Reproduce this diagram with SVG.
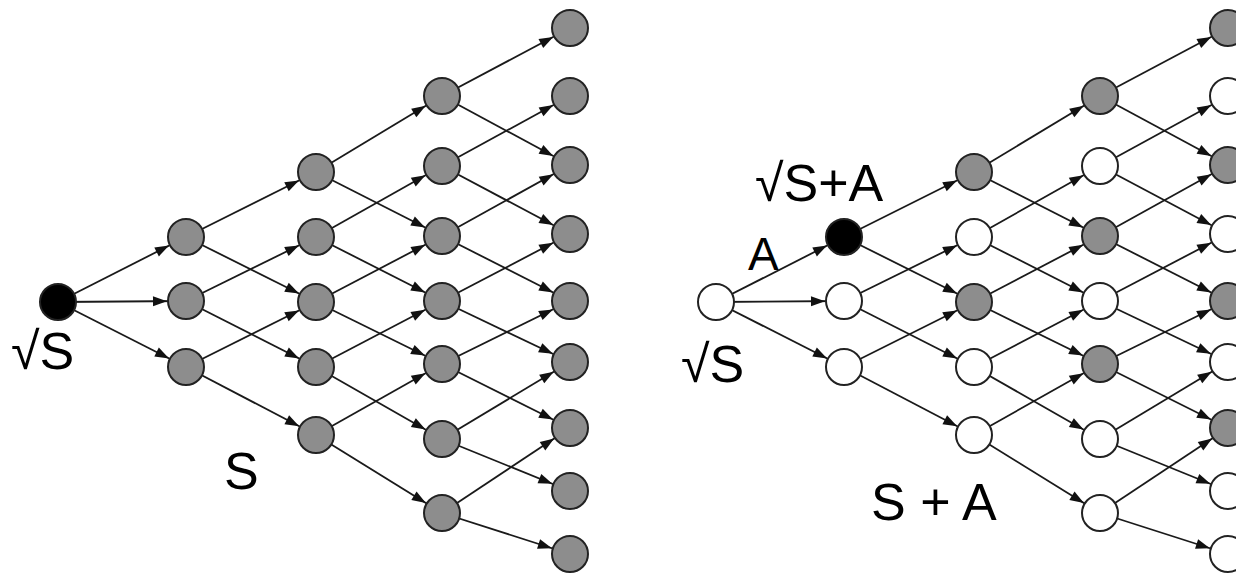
<svg xmlns="http://www.w3.org/2000/svg" width="1236" height="573" viewBox="0 0 1236 573">
<style>
.e{stroke:#1a1a1a;stroke-width:1.8;fill:none;marker-end:url(#ah)}
.n{stroke:#222;stroke-width:2}
.g{fill:#8d8d8d}
.w{fill:#fff}
.b{fill:#000}
.t{font-family:"Liberation Sans",Arial,sans-serif;font-size:52px;fill:#000}
</style>
<defs>
<marker id="ah" markerUnits="userSpaceOnUse" markerWidth="16" markerHeight="12" refX="33" refY="5" orient="auto" overflow="visible">
<path d="M0,0 L14,5 L0,10 z" fill="#111"/>
</marker>
</defs>
<rect width="1236" height="573" fill="#fff"/>
<g id="connectors-left">
<line class="e" x1="58" y1="302" x2="186" y2="237"/>
<line class="e" x1="58" y1="302" x2="186" y2="301"/>
<line class="e" x1="58" y1="302" x2="186" y2="367"/>
<line class="e" x1="186" y1="237" x2="316" y2="172"/>
<line class="e" x1="186" y1="237" x2="316" y2="302"/>
<line class="e" x1="186" y1="301" x2="316" y2="237"/>
<line class="e" x1="186" y1="301" x2="316" y2="367"/>
<line class="e" x1="186" y1="367" x2="316" y2="302"/>
<line class="e" x1="186" y1="367" x2="316" y2="435"/>
<line class="e" x1="316" y1="172" x2="442" y2="96"/>
<line class="e" x1="316" y1="172" x2="442" y2="236"/>
<line class="e" x1="316" y1="237" x2="442" y2="166"/>
<line class="e" x1="316" y1="237" x2="442" y2="301"/>
<line class="e" x1="316" y1="302" x2="442" y2="236"/>
<line class="e" x1="316" y1="302" x2="442" y2="364"/>
<line class="e" x1="316" y1="367" x2="442" y2="301"/>
<line class="e" x1="316" y1="367" x2="442" y2="439"/>
<line class="e" x1="316" y1="435" x2="442" y2="364"/>
<line class="e" x1="316" y1="435" x2="442" y2="513"/>
<line class="e" x1="442" y1="96" x2="570" y2="28"/>
<line class="e" x1="442" y1="96" x2="570" y2="165"/>
<line class="e" x1="442" y1="166" x2="570" y2="96"/>
<line class="e" x1="442" y1="166" x2="570" y2="234"/>
<line class="e" x1="442" y1="236" x2="570" y2="165"/>
<line class="e" x1="442" y1="236" x2="570" y2="301"/>
<line class="e" x1="442" y1="301" x2="570" y2="234"/>
<line class="e" x1="442" y1="301" x2="570" y2="362"/>
<line class="e" x1="442" y1="364" x2="570" y2="301"/>
<line class="e" x1="442" y1="364" x2="570" y2="428"/>
<line class="e" x1="442" y1="439" x2="570" y2="362"/>
<line class="e" x1="442" y1="439" x2="570" y2="491"/>
<line class="e" x1="442" y1="513" x2="570" y2="428"/>
<line class="e" x1="442" y1="513" x2="570" y2="554"/>
</g>
<g id="connectors-right" transform="translate(658,0)">
<line class="e" x1="58" y1="302" x2="186" y2="237"/>
<line class="e" x1="58" y1="302" x2="186" y2="301"/>
<line class="e" x1="58" y1="302" x2="186" y2="367"/>
<line class="e" x1="186" y1="237" x2="316" y2="172"/>
<line class="e" x1="186" y1="237" x2="316" y2="302"/>
<line class="e" x1="186" y1="301" x2="316" y2="237"/>
<line class="e" x1="186" y1="301" x2="316" y2="367"/>
<line class="e" x1="186" y1="367" x2="316" y2="302"/>
<line class="e" x1="186" y1="367" x2="316" y2="435"/>
<line class="e" x1="316" y1="172" x2="442" y2="96"/>
<line class="e" x1="316" y1="172" x2="442" y2="236"/>
<line class="e" x1="316" y1="237" x2="442" y2="166"/>
<line class="e" x1="316" y1="237" x2="442" y2="301"/>
<line class="e" x1="316" y1="302" x2="442" y2="236"/>
<line class="e" x1="316" y1="302" x2="442" y2="364"/>
<line class="e" x1="316" y1="367" x2="442" y2="301"/>
<line class="e" x1="316" y1="367" x2="442" y2="439"/>
<line class="e" x1="316" y1="435" x2="442" y2="364"/>
<line class="e" x1="316" y1="435" x2="442" y2="513"/>
<line class="e" x1="442" y1="96" x2="570" y2="28"/>
<line class="e" x1="442" y1="96" x2="570" y2="165"/>
<line class="e" x1="442" y1="166" x2="570" y2="96"/>
<line class="e" x1="442" y1="166" x2="570" y2="234"/>
<line class="e" x1="442" y1="236" x2="570" y2="165"/>
<line class="e" x1="442" y1="236" x2="570" y2="301"/>
<line class="e" x1="442" y1="301" x2="570" y2="234"/>
<line class="e" x1="442" y1="301" x2="570" y2="362"/>
<line class="e" x1="442" y1="364" x2="570" y2="301"/>
<line class="e" x1="442" y1="364" x2="570" y2="428"/>
<line class="e" x1="442" y1="439" x2="570" y2="362"/>
<line class="e" x1="442" y1="439" x2="570" y2="491"/>
<line class="e" x1="442" y1="513" x2="570" y2="428"/>
<line class="e" x1="442" y1="513" x2="570" y2="554"/>
</g>
<g id="left-nodes">
<g id="L-root"><circle class="n b" cx="58" cy="302" r="18"/></g>
<g id="L-A1"><circle class="n g" cx="186" cy="237" r="18"/></g>
<g id="L-A2"><circle class="n g" cx="186" cy="301" r="18"/></g>
<g id="L-A3"><circle class="n g" cx="186" cy="367" r="18"/></g>
<g id="L-B1"><circle class="n g" cx="316" cy="172" r="18"/></g>
<g id="L-B2"><circle class="n g" cx="316" cy="237" r="18"/></g>
<g id="L-B3"><circle class="n g" cx="316" cy="302" r="18"/></g>
<g id="L-B4"><circle class="n g" cx="316" cy="367" r="18"/></g>
<g id="L-B5"><circle class="n g" cx="316" cy="435" r="18"/></g>
<g id="L-C1"><circle class="n g" cx="442" cy="96" r="18"/></g>
<g id="L-C2"><circle class="n g" cx="442" cy="166" r="18"/></g>
<g id="L-C3"><circle class="n g" cx="442" cy="236" r="18"/></g>
<g id="L-C4"><circle class="n g" cx="442" cy="301" r="18"/></g>
<g id="L-C5"><circle class="n g" cx="442" cy="364" r="18"/></g>
<g id="L-C6"><circle class="n g" cx="442" cy="439" r="18"/></g>
<g id="L-C7"><circle class="n g" cx="442" cy="513" r="18"/></g>
<g id="L-D1"><circle class="n g" cx="570" cy="28" r="18"/></g>
<g id="L-D2"><circle class="n g" cx="570" cy="96" r="18"/></g>
<g id="L-D3"><circle class="n g" cx="570" cy="165" r="18"/></g>
<g id="L-D4"><circle class="n g" cx="570" cy="234" r="18"/></g>
<g id="L-D5"><circle class="n g" cx="570" cy="301" r="18"/></g>
<g id="L-D6"><circle class="n g" cx="570" cy="362" r="18"/></g>
<g id="L-D7"><circle class="n g" cx="570" cy="428" r="18"/></g>
<g id="L-D8"><circle class="n g" cx="570" cy="491" r="18"/></g>
<g id="L-D9"><circle class="n g" cx="570" cy="554" r="18"/></g>
</g>
<g id="right-nodes">
<g id="R-root"><circle class="n w" cx="716" cy="302" r="18"/></g>
<g id="R-A1"><circle class="n b" cx="844" cy="237" r="18"/></g>
<g id="R-A2"><circle class="n w" cx="844" cy="301" r="18"/></g>
<g id="R-A3"><circle class="n w" cx="844" cy="367" r="18"/></g>
<g id="R-B1"><circle class="n g" cx="974" cy="172" r="18"/></g>
<g id="R-B2"><circle class="n w" cx="974" cy="237" r="18"/></g>
<g id="R-B3"><circle class="n g" cx="974" cy="302" r="18"/></g>
<g id="R-B4"><circle class="n w" cx="974" cy="367" r="18"/></g>
<g id="R-B5"><circle class="n w" cx="974" cy="435" r="18"/></g>
<g id="R-C1"><circle class="n g" cx="1100" cy="96" r="18"/></g>
<g id="R-C2"><circle class="n w" cx="1100" cy="166" r="18"/></g>
<g id="R-C3"><circle class="n g" cx="1100" cy="236" r="18"/></g>
<g id="R-C4"><circle class="n w" cx="1100" cy="301" r="18"/></g>
<g id="R-C5"><circle class="n g" cx="1100" cy="364" r="18"/></g>
<g id="R-C6"><circle class="n w" cx="1100" cy="439" r="18"/></g>
<g id="R-C7"><circle class="n w" cx="1100" cy="513" r="18"/></g>
<g id="R-D1"><circle class="n g" cx="1228" cy="28" r="18"/></g>
<g id="R-D2"><circle class="n w" cx="1228" cy="96" r="18"/></g>
<g id="R-D3"><circle class="n g" cx="1228" cy="165" r="18"/></g>
<g id="R-D4"><circle class="n w" cx="1228" cy="234" r="18"/></g>
<g id="R-D5"><circle class="n g" cx="1228" cy="301" r="18"/></g>
<g id="R-D6"><circle class="n w" cx="1228" cy="362" r="18"/></g>
<g id="R-D7"><circle class="n g" cx="1228" cy="428" r="18"/></g>
<g id="R-D8"><circle class="n w" cx="1228" cy="491" r="18"/></g>
<g id="R-D9"><circle class="n w" cx="1228" cy="554" r="18"/></g>
</g>
<g id="labels">
<text class="t" x="11" y="369">√S</text>
<text class="t" x="224" y="489">S</text>
<text class="t" x="681" y="382">√S</text>
<text class="t" x="755" y="201">√S+A</text>
<text class="t" x="748" y="270" style="font-size:46px">A</text>
<text class="t" x="871" y="520">S + A</text>
</g>
</svg>
